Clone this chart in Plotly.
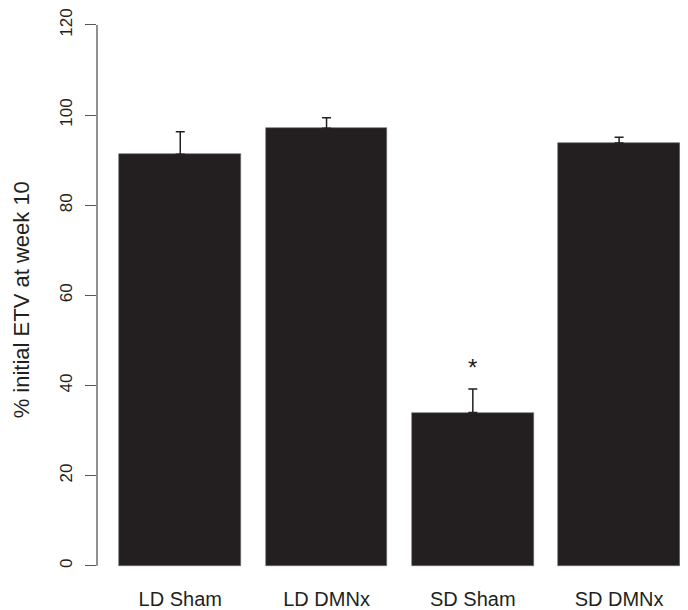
import plotly.graph_objects as go

# Data
groups = ["LD Sham", "LD DMNx", "SD Sham", "SD DMNx"]
means = [91.3, 97.1, 34.0, 93.8]
upper = [96.3, 99.4, 39.2, 95.1]          # top of the error bar
y_ticks = [0, 20, 40, 60, 80, 100, 120]
sig_marks = ["", "", "*", ""]
sig_heights = [None, None, 44.0, None]

# R barplot positions (width 1, space 0.2)
xpos = [0.7 + 1.2 * i for i in range(len(groups))]
err_plus = [u - m for u, m in zip(upper, means)]

ink = "#231f20"
font_family = "Liberation Sans, Arial, Helvetica, sans-serif"

fig = go.Figure()
fig.add_trace(go.Bar(
    x=xpos, y=means, width=1.0,
    marker=dict(color=ink, line=dict(width=0.6, color="#6a6a6a")),
    error_y=dict(type="data", symmetric=False, array=err_plus,
                 arrayminus=[0] * len(means), color=ink,
                 thickness=1.5, width=4.5),
    showlegend=False, hoverinfo="skip",
))

for x, s, h in zip(xpos, sig_marks, sig_heights):
    if s:
        fig.add_annotation(x=x, y=h, text=s, showarrow=False,
                           font=dict(size=24, color=ink, family=font_family),
                           xanchor="center", yanchor="middle")

# y axis line spanning only the tick range (R style)
fig.add_shape(type="line", xref="paper", yref="y", x0=0, x1=0,
              y0=y_ticks[0], y1=y_ticks[-1],
              line=dict(color="#555555", width=1.3))

fig.add_annotation(xref="paper", yref="y", x=(21.5 - 97) / 591, y=59,
                   text="% initial ETV at week 10", textangle=-90,
                   showarrow=False, xanchor="center", yanchor="middle",
                   font=dict(size=22, color=ink, family=font_family))

fig.update_layout(
    width=680, height=602,
    margin=dict(l=89, r=0, t=0, b=25, autoexpand=False),
    plot_bgcolor="white", paper_bgcolor="white",
    bargap=0,
    xaxis=dict(range=[0.017, 0.017 + 591 / 121.9], tickvals=xpos,
               ticktext=groups, showgrid=False, zeroline=False,
               showline=False, ticks="", automargin=False,
               tickfont=dict(size=20, color=ink, family=font_family)),
    yaxis=dict(range=[-4.28, 123.77], tickvals=y_ticks,
               ticktext=[str(v) for v in y_ticks], tickangle=-90,
               showgrid=False, zeroline=False, showline=False,
               ticks="outside", ticklen=11, tickwidth=1.3,
               tickcolor="#555555", ticklabelstandoff=6, automargin=False,
               tickfont=dict(size=17, color=ink, family=font_family)),
)

fig.write_html("out.html")
